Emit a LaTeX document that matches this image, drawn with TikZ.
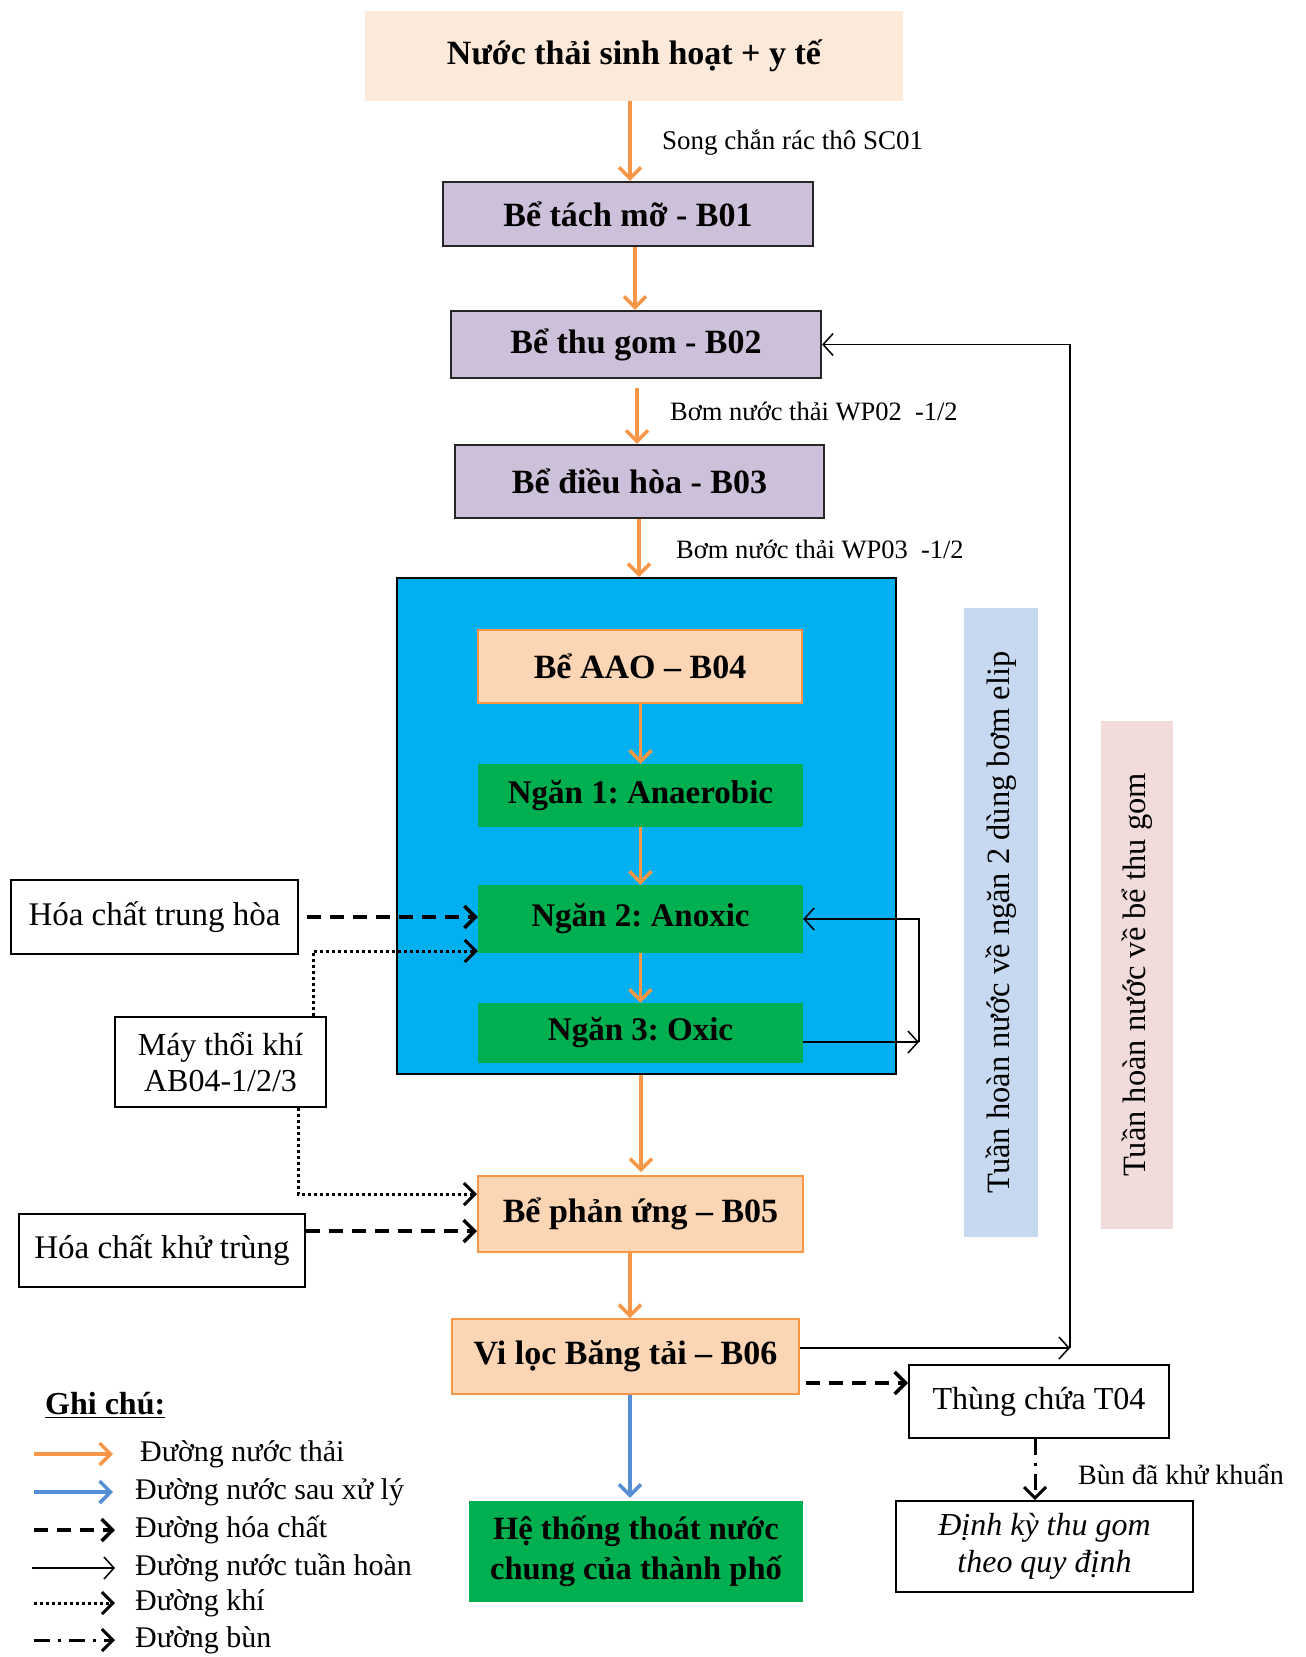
\documentclass[tikz,border=0pt]{standalone}
\usepackage{fontspec}
\setmainfont{Liberation Serif}
\usetikzlibrary{arrows.meta,calc}
\definecolor{topfill}{HTML}{FDE9D9}
\definecolor{lavfill}{HTML}{CCC0DA}
\definecolor{lavline}{HTML}{262626}
\definecolor{peachfill}{HTML}{FCD5B4}
\definecolor{orangeline}{HTML}{F79646}
\definecolor{grnfill}{HTML}{00B050}
\definecolor{cyanfill}{HTML}{00B0F0}
\definecolor{bluearrow}{HTML}{558ED5}
\definecolor{paleblue}{HTML}{C6D9F1}
\definecolor{palepink}{HTML}{F2DCDB}
\frenchspacing
\begin{document}
\begin{tikzpicture}[x=1pt,y=-1pt,
  box/.style={inner sep=0pt, align=center, font=\fontsize{33}{38}\selectfont},
  titlebox/.style={box, font=\fontsize{34}{38}\selectfont\bfseries},
  topbox/.style={titlebox, fill=topfill},
  lavbox/.style={titlebox, fill=lavfill, draw=lavline, line width=2.2pt},
  peachbox/.style={titlebox, fill=peachfill, draw=orangeline, line width=2pt},
  grnbox/.style={titlebox, fill=grnfill},
  wbox/.style={box, fill=white, draw=black, line width=1.8pt},
  vbox/.style={box, rotate=90, font=\fontsize{32.5}{38}\selectfont},
  lbl/.style={anchor=west, inner sep=0pt, font=\fontsize{27}{30}\selectfont},
  legtxt/.style={anchor=west, inner sep=0pt, font=\fontsize{30}{34}\selectfont},
  barb/.style={-{Straight Barb[length=11pt,width=22pt]}},
  ww/.style={draw=orangeline, line width=3.5pt, barb},
  bw/.style={draw=bluearrow, line width=3.5pt, barb},
  chem/.style={line width=3.5pt, dash pattern=on 14pt off 9pt, barb},
  rec/.style={line width=1.5pt, -{Straight Barb[length=10pt,width=22pt]}},
  air/.style={line width=3pt, dash pattern=on 3pt off 3pt, barb},
  mud/.style={line width=3pt, dash pattern=on 16pt off 8pt on 3pt off 8pt, barb}
]
\useasboundingbox (0,0) rectangle (1306,1657);

% main column
\node[topbox, minimum width=538pt, minimum height=90pt] (top) at (634,56) {Nước thải sinh hoạt + y tế};
\node[lavbox, minimum width=370pt, minimum height=64pt] (b01) at (628,214) {Bể tách mỡ - B01};
\node[lavbox, minimum width=370pt, minimum height=67pt] (b02) at (636,344.5) {Bể thu gom - B02};
\node[lavbox, minimum width=369pt, minimum height=73pt] (b03) at (639.5,481.5) {Bể điều hòa - B03};

\node[draw=black, line width=1.8pt, fill=cyanfill, minimum width=499pt, minimum height=496pt, inner sep=0pt] (blue) at (646.5,826) {};
\node[peachbox, minimum width=324pt, minimum height=73pt] (b04) at (640,666.5) {Bể AAO – B04};
\node[grnbox, minimum width=325pt, minimum height=63pt, font=\fontsize{33}{38}\selectfont\bfseries] (n1) at (640.5,795.5) {Ngăn 1: Anaerobic};
\node[grnbox, minimum width=325pt, minimum height=68pt, font=\fontsize{33}{38}\selectfont\bfseries] (n2) at (640.5,919) {Ngăn 2: Anoxic};
\node[grnbox, minimum width=325pt, minimum height=60pt, font=\fontsize{33}{38}\selectfont\bfseries] (n3) at (640.5,1033) {Ngăn 3: Oxic};

\node[peachbox, minimum width=325pt, minimum height=76pt] (b05) at (640.5,1214) {Bể phản ứng – B05};
\node[peachbox, minimum width=347pt, minimum height=75pt] (b06) at (625.5,1356.5) {Vi lọc Băng tải – B06};
\node[grnbox, minimum width=334pt, minimum height=101pt, font=\fontsize{32.5}{40}\selectfont\bfseries] (ht) at (636,1551.5) {Hệ thống thoát nước\\chung của thành phố};

% side boxes
\node[wbox, minimum width=287pt, minimum height=74pt] (hc1) at (154.5,917) {Hóa chất trung hòa};
\node[wbox, minimum width=211pt, minimum height=90pt, font=\fontsize{32}{36}\selectfont] (mtk) at (220.5,1062) {Máy thổi khí\\AB04-1/2/3};
\node[wbox, minimum width=286pt, minimum height=73pt] (hc2) at (162,1250.5) {Hóa chất khử trùng};
\node[wbox, minimum width=260pt, minimum height=73pt, font=\fontsize{32}{38}\selectfont] (t04) at (1039,1401.5) {Thùng chứa T04};
\node[wbox, minimum width=297pt, minimum height=91pt, font=\fontsize{32}{37}\selectfont\itshape] (dk) at (1044.5,1546.5) {Định kỳ thu gom\\theo quy định};

\node[vbox, fill=paleblue, minimum width=629pt, minimum height=74pt] (vb1) at (1001,922.5) {Tuần hoàn nước về ngăn 2 dùng bơm elip};
\node[vbox, fill=palepink, minimum width=508pt, minimum height=72pt] (vb2) at (1137,975) {Tuần hoàn nước về bể thu gom};

% x positions of vertical connectors
\coordinate (xa) at (630,0);
\coordinate (xb) at (635,0);
\coordinate (xc) at (637,0);
\coordinate (xd) at (639,0);
\coordinate (xe) at (640.5,0);
\coordinate (xf) at (641,0);

% waste-water arrows
\draw[ww] (top.south -| xa) -- (b01.north -| xa);
\draw[ww] (b01.south -| xb) -- (b02.north -| xb);
\draw[ww] ([yshift=-9pt]b02.south -| xc) -- (b03.north -| xc);
\draw[ww] (b03.south -| xd) -- (blue.north -| xd);
\draw[ww] (b04.south -| xe) -- (n1.north -| xe);
\draw[ww] (n1.south -| xe) -- (n2.north -| xe);
\draw[ww] (n2.south -| xe) -- (n3.north -| xe);
\draw[ww] (blue.south -| xf) -- ([yshift=3pt]b05.north -| xf);
\draw[ww] (b05.south -| xa) -- (b06.north -| xa);
\draw[bw] (b06.south -| xa) -- ([yshift=3pt]ht.north -| xa);

% labels
\node[lbl] (l1) at (662,143) {Song chắn rác thô SC01};
\node[lbl, font=\fontsize{26.5}{30}\selectfont] (l2) at (670,411) {Bơm nước thải WP02 \ -1/2};
\node[lbl, font=\fontsize{26.5}{30}\selectfont] (l3) at (676,549) {Bơm nước thải WP03 \ -1/2};
\node[lbl, font=\fontsize{28}{30}\selectfont] (l4) at (1078,1474) {Bùn đã khử khuẩn};

% recirculation
\coordinate (r1) at (919,1042);
\draw[rec] (n3.east |- r1) -- (r1);
\draw[rec] (r1) |- (n2.east);
\coordinate (r2) at (1070,1348);
\draw[rec] (b06.east |- r2) -- (r2);
\draw[rec] (r2) |- (b02.east);

% chemicals and air
\draw[chem] ([xshift=8pt]hc1.east) -- (hc1.east -| n2.west);
\coordinate (d1) at (313,951);
\draw[air] (mtk.north -| d1) -- (d1) -- (d1 -| n2.west);
\coordinate (d2) at (298,1194);
\draw[air] (mtk.south -| d2) -- (d2) -- (d2 -| b05.west);
\coordinate (c2) at (305,1231);
\draw[chem] (hc2.east |- c2) -- (c2 -| b05.west);
\coordinate (c3) at (806,1383);
\draw[chem] (c3) -- (t04.west |- c3);
\coordinate (c4) at (1035,0);
\draw[mud] (t04.south -| c4) -- (dk.north -| c4);

% legend
\node[anchor=west, inner sep=0pt, font=\fontsize{32}{38}\selectfont\bfseries] (gc) at (45,1405) {\underline{Ghi chú:}};
\coordinate (la1) at (34,1454);
\coordinate (la2) at (34,1492);
\coordinate (la3) at (34,1530);
\coordinate (la4) at (32,1568);
\coordinate (la5) at (34,1603);
\coordinate (la6) at (34,1640);
\draw[ww] (la1) -- ++(79,0);
\draw[bw] (la2) -- ++(79,0);
\draw[chem] (la3) -- ++(81,0);
\draw[rec] (la4) -- ++(83,0);
\draw[air] (la5) -- ++(81,0);
\draw[mud] (la6) -- ++(81,0);
\node[legtxt] (t1) at (140,1454) {Đường nước thải};
\node[legtxt] (t2) at (135,1492) {Đường nước sau xử lý};
\node[legtxt] (t3) at (135,1530) {Đường hóa chất};
\node[legtxt] (t4) at (135,1568) {Đường nước tuần hoàn};
\node[legtxt] (t5) at (135,1603) {Đường khí};
\node[legtxt] (t6) at (135,1640) {Đường bùn};
\end{tikzpicture}
\end{document}
